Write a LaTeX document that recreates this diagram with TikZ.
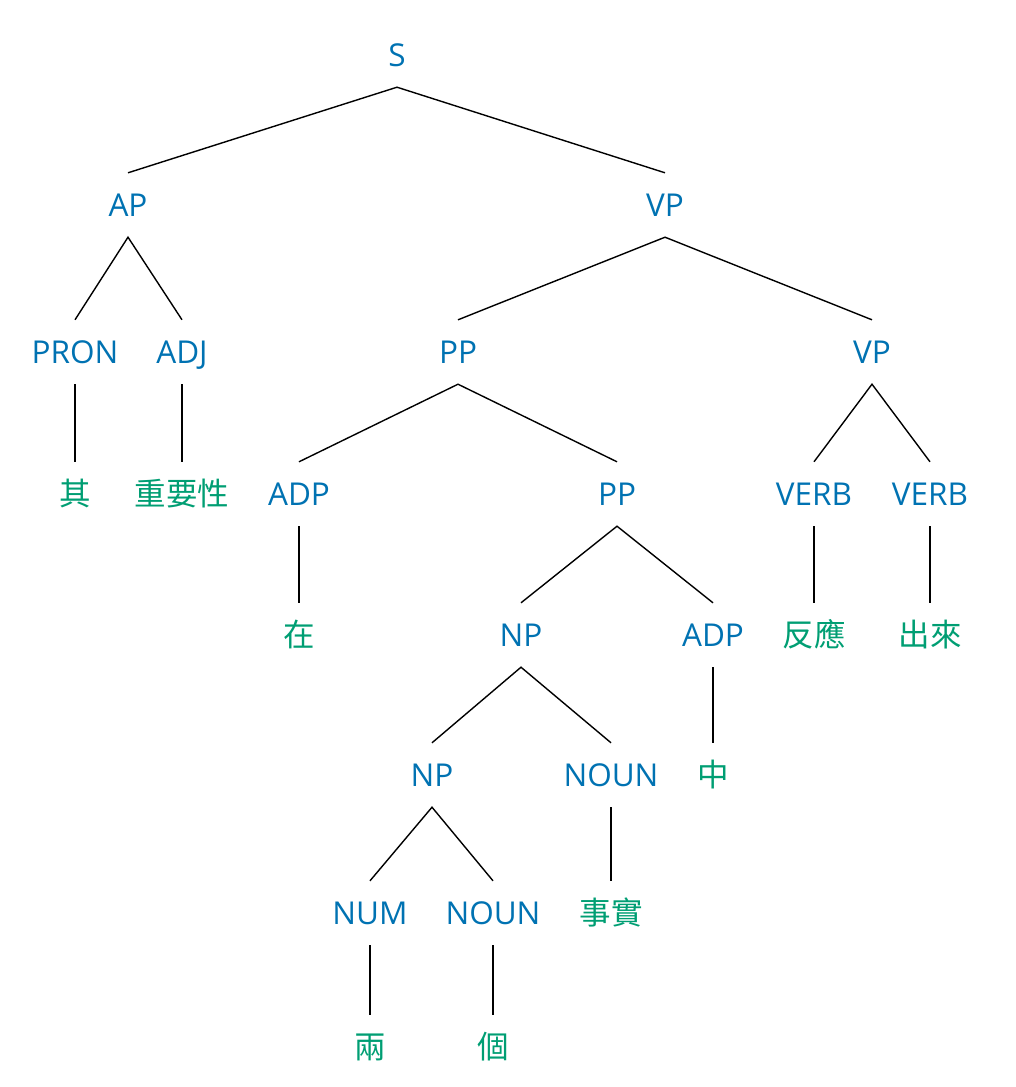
\documentclass[tikz,border=0pt]{standalone}
\usepackage{fontspec}
\setmainfont{Open Sans}
\newfontfamily\cjk{Noto Sans CJK TC}
\definecolor{tagblue}{HTML}{0072B2}
\definecolor{wordgreen}{HTML}{009E73}
\tikzset{
	tag/.style={text=tagblue,font=\fontsize{31.5}{31.5}\selectfont,inner sep=0pt,text height=23pt,text depth=0pt,minimum height=64pt},
	word/.style={tag,text=wordgreen,font=\fontsize{31.5}{31.5}\selectfont\cjk},
	branch/.style={draw=black,line width=1.4pt}
}
\begin{document}
\begin{tikzpicture}[x=1pt,y=-1pt]
	\useasboundingbox (0,0) rectangle (1015,1087);
	%phrases
	\node[tag] (s) at (397,55) {S};
	\node[tag] (ap) at (128,205) {AP};
	\node[tag] (vp) at (665,205) {VP};
	\node[tag] (pron) at (75,352) {PRON};
	\node[tag] (adj) at (182,352) {ADJ};
	\node[tag] (pp) at (458,352) {PP};
	\node[tag] (vpb) at (872,352) {VP};
	\node[tag] (adp) at (299,494) {ADP};
	\node[tag] (ppb) at (617,494) {PP};
	\node[tag] (verba) at (814,494) {VERB};
	\node[tag] (verbb) at (930,494) {VERB};
	\node[tag] (np) at (521,635) {NP};
	\node[tag] (adpb) at (713,635) {ADP};
	\node[tag] (npb) at (432,775) {NP};
	\node[tag] (noun) at (611,775) {NOUN};
	\node[tag] (num) at (370,913) {NUM};
	\node[tag] (nounb) at (493,913) {NOUN};

	%words
	\node[word] (qi) at (75,494) {其};
	\node[word] (zhongyao) at (182,494) {重要性};
	\node[word] (zai) at (299,635) {在};
	\node[word] (fanying) at (814,635) {反應};
	\node[word] (chulai) at (930,635) {出來};
	\node[word] (zhong) at (713,775) {中};
	\node[word] (shishi) at (611,913) {事實};
	\node[word] (liang) at (370,1047) {兩};
	\node[word] (ge) at (493,1047) {個};

	%branches
	\draw[branch] (ap.north) -- (s.south) -- (vp.north);
	\draw[branch] (pron.north) -- (ap.south) -- (adj.north);
	\draw[branch] (pp.north) -- (vp.south) -- (vpb.north);
	\draw[branch] (adp.north) -- (pp.south) -- (ppb.north);
	\draw[branch] (verba.north) -- (vpb.south) -- (verbb.north);
	\draw[branch] (np.north) -- (ppb.south) -- (adpb.north);
	\draw[branch] (npb.north) -- (np.south) -- (noun.north);
	\draw[branch] (num.north) -- (npb.south) -- (nounb.north);

	%leaves
	\draw[branch] (pron) -- (qi);
	\draw[branch] (adj) -- (zhongyao);
	\draw[branch] (adp) -- (zai);
	\draw[branch] (verba) -- (fanying);
	\draw[branch] (verbb) -- (chulai);
	\draw[branch] (adpb) -- (zhong);
	\draw[branch] (noun) -- (shishi);
	\draw[branch] (num) -- (liang);
	\draw[branch] (nounb) -- (ge);
\end{tikzpicture}
\end{document}
